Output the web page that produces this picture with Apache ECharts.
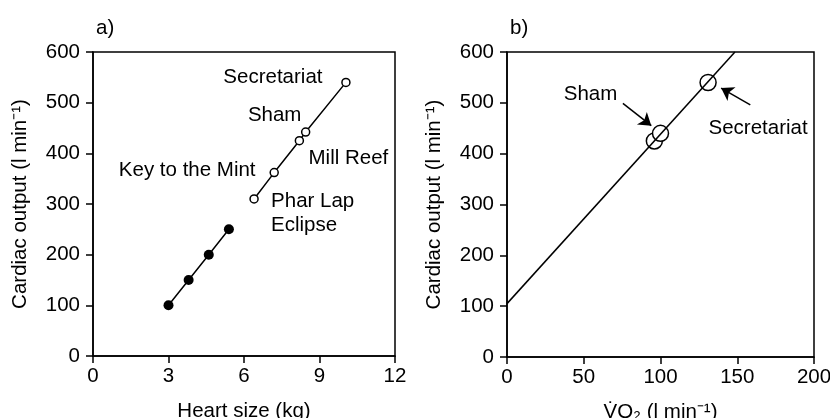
<!DOCTYPE html>
<html>
<head>
<meta charset="utf-8">
<script src="https://cdn.jsdelivr.net/npm/echarts@6/dist/echarts.min.js"></script>
<style>
  html, body { margin: 0; padding: 0; background: #fff; }
  #chart { width: 830px; height: 418px; }
</style>
</head>
<body>
<div id="chart"></div>
<script>
// Panel a: heart size vs cardiac output
const heartTicksX = [0, 3, 6, 9, 12];
const outputTicksY = [0, 100, 200, 300, 400, 500, 600];
const smallHeartSize = [3.0, 3.8, 4.6, 5.4];
const smallHeartOutput = [100, 150, 200, 250];
const horseNames = ['Phar Lap\nEclipse', 'Key to the Mint', 'Mill Reef', 'Sham', 'Secretariat'];
const horseHeartSize = [6.4, 7.2, 8.2, 8.45, 10.05];
const horseOutput = [310, 362, 425, 442, 540];

// Panel b: oxygen uptake vs cardiac output
const vo2Ticks = [0, 50, 100, 150, 200];
const vo2Names = ['', 'Sham', 'Secretariat'];
const vo2Values = [96, 100, 131];
const vo2Output = [425, 440, 540];
const fitVo2 = [0, 148.5];
const fitOutput = [105, 600];

const FONT = '"Liberation Sans", Arial, Helvetica, sans-serif';
const FS = 20.5;

// label placement for each horse in panel a (pixel offsets from the point)
const horseLabelOffsets = [[17, 14, 'left'], [-87, -2, 'center'], [49, 18, 'center'], [-31, -17, 'center'], [-73, -5, 'center']];
const vo2LabelOffsets = [null, [-70, -39], [50, 46]];

function pairs(xs, ys) { return xs.map((x, i) => [x, ys[i]]); }

function axisCommon(ticks, labelMargin) {
  return {
    min: ticks[0], max: ticks[ticks.length - 1], interval: ticks[1] - ticks[0],
    axisLine: { show: true, onZero: false, lineStyle: { color: '#000', width: 1.5 } },
    axisTick: { show: true, inside: false, length: 7, lineStyle: { color: '#000', width: 1.5 } },
    axisLabel: { color: '#000', fontSize: FS, fontFamily: FONT, margin: labelMargin },
    splitLine: { show: false },
    nameTextStyle: { color: '#000', fontSize: FS, fontFamily: FONT },
    nameLocation: 'middle'
  };
}

const chart = echarts.init(document.getElementById('chart'), null, { renderer: 'canvas' });

const horseData = horseHeartSize.map((x, i) => ({
  value: [x, horseOutput[i]],
  label: {
    show: true, formatter: horseNames[i], position: 'inside',
    offset: horseLabelOffsets[i].slice(0, 2), align: horseLabelOffsets[i][2],
    verticalAlign: 'middle', color: '#000', fontSize: FS, fontFamily: FONT, lineHeight: 24
  }
}));

const vo2Data = vo2Values.map((x, i) => ({
  value: [x, vo2Output[i]],
  label: vo2LabelOffsets[i] ? {
    show: true, formatter: vo2Names[i], position: 'inside', offset: vo2LabelOffsets[i],
    align: 'center', verticalAlign: 'middle', color: '#000', fontSize: FS, fontFamily: FONT
  } : { show: false }
}));

const gridCommon = {
  show: true, borderColor: '#000', borderWidth: 1.5, backgroundColor: 'transparent',
  containLabel: false, outerBoundsMode: 'none'
};

const option = {
  backgroundColor: '#fff',
  animation: false,
  title: [
    { text: 'a)', left: 91, top: 13, textStyle: { fontSize: FS, fontWeight: 'normal', fontFamily: FONT, color: '#000' } },
    { text: 'b)', left: 505, top: 13, textStyle: { fontSize: FS, fontWeight: 'normal', fontFamily: FONT, color: '#000' } }
  ],
  grid: [
    Object.assign({ left: 93, top: 52, width: 302, height: 304 }, gridCommon),
    Object.assign({ left: 507, top: 52, width: 307, height: 305 }, gridCommon)
  ],
  xAxis: [
    Object.assign(axisCommon(heartTicksX, 10), { type: 'value', gridIndex: 0, name: 'Heart size (kg)', nameGap: 45 }),
    Object.assign(axisCommon(vo2Ticks, 10), { type: 'value', gridIndex: 1, name: 'V\u0307O\u2082 (l min\u207B\u00B9)', nameGap: 45 })
  ],
  yAxis: [
    Object.assign(axisCommon(outputTicksY, 13), { type: 'value', gridIndex: 0, name: 'Cardiac output (l min\u207B\u00B9)', nameGap: 62 }),
    Object.assign(axisCommon(outputTicksY, 13), { type: 'value', gridIndex: 1, name: 'Cardiac output (l min\u207B\u00B9)', nameGap: 62 })
  ],
  series: [
    {
      type: 'line', xAxisIndex: 0, yAxisIndex: 0,
      data: pairs(smallHeartSize, smallHeartOutput),
      symbol: 'circle', symbolSize: 10,
      itemStyle: { color: '#000' },
      lineStyle: { color: '#000', width: 1.5 }
    },
    {
      type: 'line', xAxisIndex: 0, yAxisIndex: 0,
      data: horseData,
      symbol: 'circle', symbolSize: 8,
      itemStyle: { color: '#fff', borderColor: '#000', borderWidth: 1.5 },
      lineStyle: { color: '#000', width: 1.5 }
    },
    {
      type: 'line', xAxisIndex: 1, yAxisIndex: 1,
      data: pairs(fitVo2, fitOutput),
      symbol: 'none',
      lineStyle: { color: '#000', width: 1.5 },
      markLine: {
        silent: true, animation: false,
        symbol: ['none', 'arrow'], symbolSize: [12, 12],
        lineStyle: { color: '#000', width: 1.5, type: 'solid' },
        label: { show: false },
        data: [
          [{ coord: [75.5, 499] }, { coord: [94, 455] }],
          [{ coord: [158.5, 496] }, { coord: [139.5, 529] }]
        ]
      }
    },
    {
      type: 'scatter', xAxisIndex: 1, yAxisIndex: 1,
      data: vo2Data,
      symbol: 'circle', symbolSize: 16,
      itemStyle: { color: '#fff', borderColor: '#000', borderWidth: 1.5, opacity: 1 }
    }
  ]
};

chart.setOption(option);
</script>
</body>
</html>
